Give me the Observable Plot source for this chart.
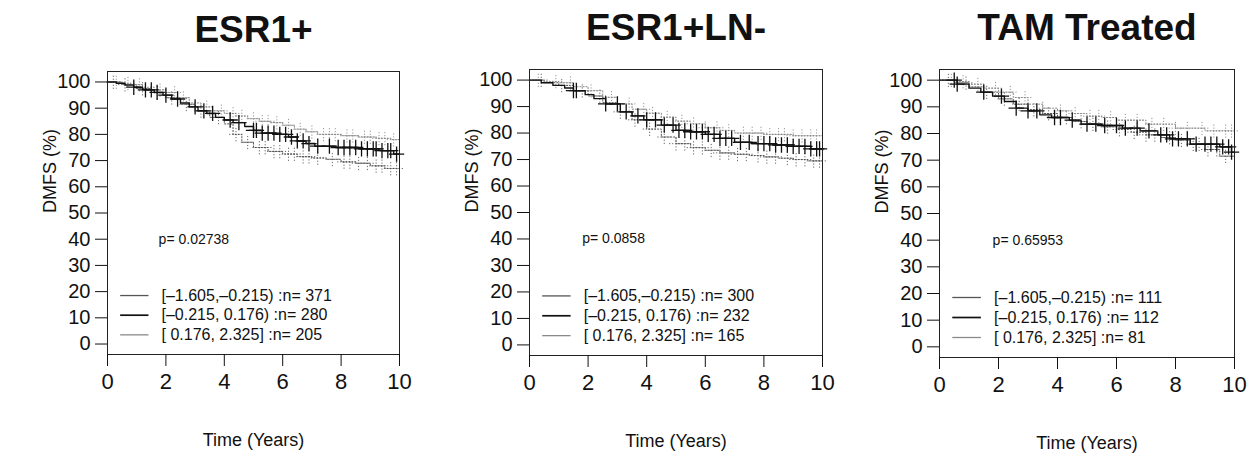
<!DOCTYPE html>
<html><head><meta charset="utf-8">
<script src="https://cdn.jsdelivr.net/npm/d3@7"></script>
<script src="https://cdn.jsdelivr.net/npm/@observablehq/plot@0.6"></script>
<style>
body{margin:0;background:#fff;}
#root{position:relative;width:1258px;height:458px;overflow:hidden;background:#fff;}
.panel{position:absolute;top:0;}
</style></head><body><div id="root"></div>
<script>
// ---------- data ----------
const panelTitles = ["ESR1+", "ESR1+LN-", "TAM Treated"];
const pValues = ["p= 0.02738", "p= 0.0858", "p= 0.65953"];
const groupLabels = ["[–1.605,–0.215)", "[–0.215, 0.176)", "[ 0.176, 2.325]"];
const groupN = [[371, 280, 205], [300, 232, 165], [111, 112, 81]];
const xTicks = [0, 2, 4, 6, 8, 10];
const yTicks = [0, 10, 20, 30, 40, 50, 60, 70, 80, 90, 100];

// ESR1+
const esr_g1_t = [0, 0.5, 1.0, 1.5, 2.0, 2.5, 3.0, 3.5, 4.0, 4.3, 4.6, 5.0, 5.5, 6.0, 6.5, 7.0, 7.5, 8.0, 8.5, 9.0, 9.5, 10];
const esr_g1_s = [100, 99, 97.5, 96, 94, 91.5, 89, 86.5, 84, 80, 77, 75, 73.5, 72.5, 71.5, 71, 70.5, 69.5, 69, 68, 67, 66];
const esr_g1_c = [0.2, 0.6, 1.2, 1.7, 2.2, 2.7, 3.2, 3.8, 4.4, 4.8, 5.2, 5.4, 5.7, 5.9, 6.2, 6.4, 6.7, 6.9, 7.2, 7.7, 8.1, 8.3, 8.6, 8.9, 9.2, 9.4, 9.7, 9.9];
const esr_g2_t = [0, 0.3, 0.6, 0.9, 1.2, 1.6, 1.9, 2.2, 2.5, 2.8, 3.1, 3.4, 3.7, 4.0, 4.3, 4.7, 5.0, 5.3, 5.8, 6.2, 6.5, 6.8, 7.1, 7.8, 8.6, 9.3, 9.8, 10];
const esr_g2_s = [100, 99.5, 98.8, 98, 97, 96, 95, 93.5, 92, 90.5, 89, 88, 86.5, 85.5, 84.5, 83, 81.5, 80.5, 80, 79, 77.5, 76.5, 75.5, 75, 74.5, 73.8, 72.5, 72.5];
const esr_g2_c = [0.9, 1.3, 1.5, 1.7, 2.0, 2.4, 3.0, 3.3, 3.6, 4.2, 4.5, 5.0, 5.1, 5.3, 5.5, 5.7, 5.9, 6.1, 6.3, 6.5, 6.7, 6.9, 7.2, 7.6, 7.9, 8.1, 8.3, 8.5, 8.7, 8.9, 9.1, 9.2, 9.4, 9.6, 9.7, 9.9];
const esr_g3_t = [0, 0.4, 0.8, 1.2, 1.6, 2.0, 2.4, 2.8, 3.2, 3.6, 4.0, 4.4, 4.8, 5.2, 5.6, 6.0, 6.4, 6.8, 7.2, 8.0, 8.6, 9.2, 9.7, 10];
const esr_g3_s = [100, 99.5, 99, 98, 97, 96, 94, 92, 90.5, 89, 88, 87, 86, 85, 84.5, 83.5, 82, 81, 80, 79.5, 79, 78.5, 78, 77.5];
const esr_g3_c = [0.3, 0.7, 1.1, 1.8, 2.3, 2.6, 3.4, 3.9, 4.3, 4.6, 5.0, 5.3, 5.5, 5.8, 6.2, 6.6, 7.0, 7.4, 7.6, 7.8, 8.2, 8.4, 8.8, 9.0, 9.3, 9.5, 9.8];

// ESR1+LN-
const ln_g1_t = [0, 0.5, 1.0, 1.5, 2.0, 2.5, 3.0, 3.5, 4.0, 4.5, 5.0, 5.5, 6.0, 6.5, 7.0, 7.5, 8.0, 8.5, 9.0, 9.5, 10];
const ln_g1_s = [100, 99, 98, 96, 94, 91.5, 88, 85, 81.5, 78.5, 76, 74.5, 73.5, 72.5, 72, 71.5, 71, 70.5, 70, 69.5, 69];
const ln_g1_c = [0.4, 1.1, 1.8, 2.4, 3.1, 3.6, 4.1, 4.6, 5.0, 5.3, 5.6, 5.9, 6.2, 6.5, 6.8, 7.1, 7.4, 7.8, 8.1, 8.4, 8.8, 9.1, 9.4, 9.7, 9.9];
const ln_g2_t = [0, 0.4, 0.8, 1.2, 1.5, 1.9, 2.2, 2.6, 3.1, 3.5, 3.9, 4.5, 5.0, 5.5, 6.0, 6.5, 7.0, 7.6, 8.3, 9.0, 9.6, 10];
const ln_g2_s = [100, 99, 98, 97, 96, 94.5, 93, 91, 88, 86.5, 85, 83, 81, 80.5, 79.5, 78, 76.5, 76, 75.5, 75, 74, 73.5];
const ln_g2_c = [1.5, 1.6, 2.6, 3.0, 3.3, 3.7, 4.0, 4.3, 4.6, 4.9, 5.1, 5.3, 5.5, 5.7, 5.9, 6.1, 6.3, 6.5, 6.7, 6.9, 7.2, 7.5, 7.8, 8.0, 8.2, 8.4, 8.6, 8.8, 9.0, 9.2, 9.4, 9.6, 9.8, 9.9];
const ln_g3_t = [0, 0.5, 1.0, 1.5, 2.0, 2.5, 3.0, 3.5, 4.0, 4.5, 5.0, 5.5, 6.0, 6.5, 7.0, 8.0, 9.0, 10];
const ln_g3_s = [100, 99.5, 99, 97.5, 96, 93.5, 91, 89, 87.5, 86, 84.5, 83.5, 82, 81, 80, 79.5, 79, 78.5];
const ln_g3_c = [0.3, 0.9, 1.4, 2.1, 2.8, 3.4, 3.9, 4.2, 4.7, 5.2, 5.6, 6.0, 6.4, 6.8, 7.3, 7.6, 7.9, 8.2, 8.5, 8.7, 9.0, 9.3, 9.6, 9.8];

// TAM Treated
const tam_g1_t = [0, 0.5, 1.0, 1.5, 2.0, 2.5, 3.0, 3.5, 4.0, 4.5, 5.0, 5.5, 6.0, 6.5, 7.0, 7.5, 8.0, 8.5, 9.0, 9.5, 10];
const tam_g1_s = [100, 99, 97.5, 95.5, 93, 91, 89, 87.5, 86, 84.5, 83.5, 82.5, 81.5, 80.5, 79.5, 78.5, 77.5, 76, 74, 71.5, 70];
const tam_g1_c = [0.3, 0.9, 1.6, 2.2, 2.7, 3.2, 3.7, 4.3, 4.8, 5.2, 5.7, 6.1, 6.6, 7.0, 7.3, 7.8, 8.2, 8.6, 8.8, 9.1, 9.4, 9.7];
const tam_g2_t = [0, 0.6, 1.0, 1.4, 1.8, 2.2, 2.6, 3.0, 3.4, 3.8, 4.4, 4.8, 5.5, 6.2, 6.8, 7.4, 7.8, 8.5, 9.5, 9.9, 10];
const tam_g2_s = [100, 98.5, 97, 95.5, 94, 92, 89.5, 88.5, 87, 86, 85, 83.5, 83, 82, 81, 79.5, 78, 76, 75, 73, 73];
const tam_g2_c = [0.5, 0.6, 1.5, 2.1, 2.6, 3.0, 3.3, 3.9, 4.1, 4.5, 5.0, 5.3, 5.6, 6.0, 6.3, 6.7, 7.1, 7.5, 7.7, 7.9, 8.1, 8.4, 8.7, 9.0, 9.2, 9.4, 9.6, 9.8, 9.9];
const tam_g3_t = [0, 0.5, 1.0, 1.5, 2.0, 2.5, 3.0, 3.5, 4.0, 4.5, 5.0, 5.5, 6.0, 7.0, 8.0, 9.0, 10];
const tam_g3_s = [100, 99.5, 98.5, 97, 95.5, 93.5, 91, 89.5, 88.5, 87.5, 86.5, 86, 85, 83.5, 82, 81, 80];
const tam_g3_c = [0.4, 0.8, 1.3, 1.9, 2.4, 2.9, 3.5, 4.1, 4.6, 5.1, 5.4, 5.8, 6.3, 6.7, 7.2, 7.6, 8.0, 8.4, 8.9, 9.3, 9.7, 9.9];

// ---------- styles / layout ----------
const groupStroke = ["#555", "#111", "#8a8a8a"];
const groupDash = ["1.2,1.8", null, "1.2,1.8"];
const groupWidth = [1, 1.4, 1];
const legendRowY = [18.5, 11, 3.5];
const legendSeg = [0.45, 1.42];
const legendTextX = 1.85;
const pPos = [[1.75, 40], [1.8, 40], [1.8, 40]];
const layouts = [
  {left: 0, width: 420, mt: 71, mb: 104, ml: 107, mr: 21},
  {left: 420, width: 420, mt: 69, mb: 103, ml: 109, mr: 18},
  {left: 840, width: 418, mt: 69, mb: 101, ml: 99, mr: 24}
];
const FONT = "'Liberation Sans', Arial, Helvetica, sans-serif";

const panelGroups = [
  [[esr_g1_t, esr_g1_s, esr_g1_c], [esr_g2_t, esr_g2_s, esr_g2_c], [esr_g3_t, esr_g3_s, esr_g3_c]],
  [[ln_g1_t, ln_g1_s, ln_g1_c], [ln_g2_t, ln_g2_s, ln_g2_c], [ln_g3_t, ln_g3_s, ln_g3_c]],
  [[tam_g1_t, tam_g1_s, tam_g1_c], [tam_g2_t, tam_g2_s, tam_g2_c], [tam_g3_t, tam_g3_s, tam_g3_c]]
];

function stepAt(ts, ss, x) {
  let v = ss[0];
  for (let i = 0; i < ts.length; i++) if (ts[i] <= x) v = ss[i];
  return v;
}

const root = document.getElementById("root");
panelGroups.forEach((groups, pi) => {
  const L = layouts[pi];
  const lineData = [], censData = [];
  groups.forEach(([ts, ss, cs], gi) => {
    ts.forEach((t, i) => lineData.push({g: gi, t, s: ss[i]}));
    cs.forEach(c => censData.push({g: gi, t: c, s: stepAt(ts, ss, c)}));
  });
  const legendRows = groupLabels.map((lab, gi) => ({g: gi, y: legendRowY[gi], label: `${lab} :n= ${groupN[pi][gi]}`}));
  const marks = [];
  [0, 2, 1].forEach(gi => {
    marks.push(Plot.line(lineData.filter(d => d.g === gi), {
      x: "t", y: "s", curve: "step-after", stroke: groupStroke[gi],
      strokeWidth: groupWidth[gi], strokeDasharray: groupDash[gi]
    }));
    marks.push(Plot.dot(censData.filter(d => d.g === gi), {
      x: "t", y: "s", symbol: "plus", r: gi === 1 ? 5 : 4.5, stroke: groupStroke[gi],
      strokeWidth: gi === 1 ? 1.3 : 0.9, strokeDasharray: groupDash[gi]
    }));
  });
  marks.push(
    Plot.frame({stroke: "#222", strokeWidth: 1}),
    Plot.axisX({ticks: xTicks, tickSize: 12, tickPadding: 7, fontSize: 22, label: null}),
    Plot.axisY({ticks: yTicks, tickSize: 12, tickPadding: 5, fontSize: 20, label: null}),
    Plot.text([panelTitles[pi]], {frameAnchor: "top", dy: -41, fontSize: 37, fontWeight: "bold", lineAnchor: "middle", text: d => d}),
    Plot.text(["DMFS (%)"], {frameAnchor: "left", dx: -57, rotate: -90, fontSize: 18, lineAnchor: "middle", text: d => d}),
    Plot.text(["Time (Years)"], {frameAnchor: "bottom", dy: 86, fontSize: 18, lineAnchor: "middle", text: d => d}),
    Plot.text([pValues[pi]], {x: () => pPos[pi][0], y: () => pPos[pi][1], text: d => d, textAnchor: "start", fontSize: 14}),
    Plot.ruleY(legendRows, {y: "y", x1: () => legendSeg[0], x2: () => legendSeg[1],
      stroke: d => groupStroke[d.g], strokeWidth: d => groupWidth[d.g] + 0.3,
      strokeDasharray: d => groupDash[d.g] || "none"}),
    Plot.text(legendRows, {x: () => legendTextX, y: "y", text: "label", textAnchor: "start", fontSize: 16})
  );
  const chart = Plot.plot({
    width: L.width, height: 458,
    marginTop: L.mt, marginBottom: L.mb, marginLeft: L.ml, marginRight: L.mr,
    style: {fontFamily: FONT, background: "transparent", color: "#111", overflow: "visible"},
    x: {domain: [0, 10]},
    y: {domain: [-4, 104]},
    marks
  });
  const div = document.createElement("div");
  div.className = "panel";
  div.style.left = L.left + "px";
  div.style.width = L.width + "px";
  div.appendChild(chart);
  root.appendChild(div);
});
</script></body></html>
